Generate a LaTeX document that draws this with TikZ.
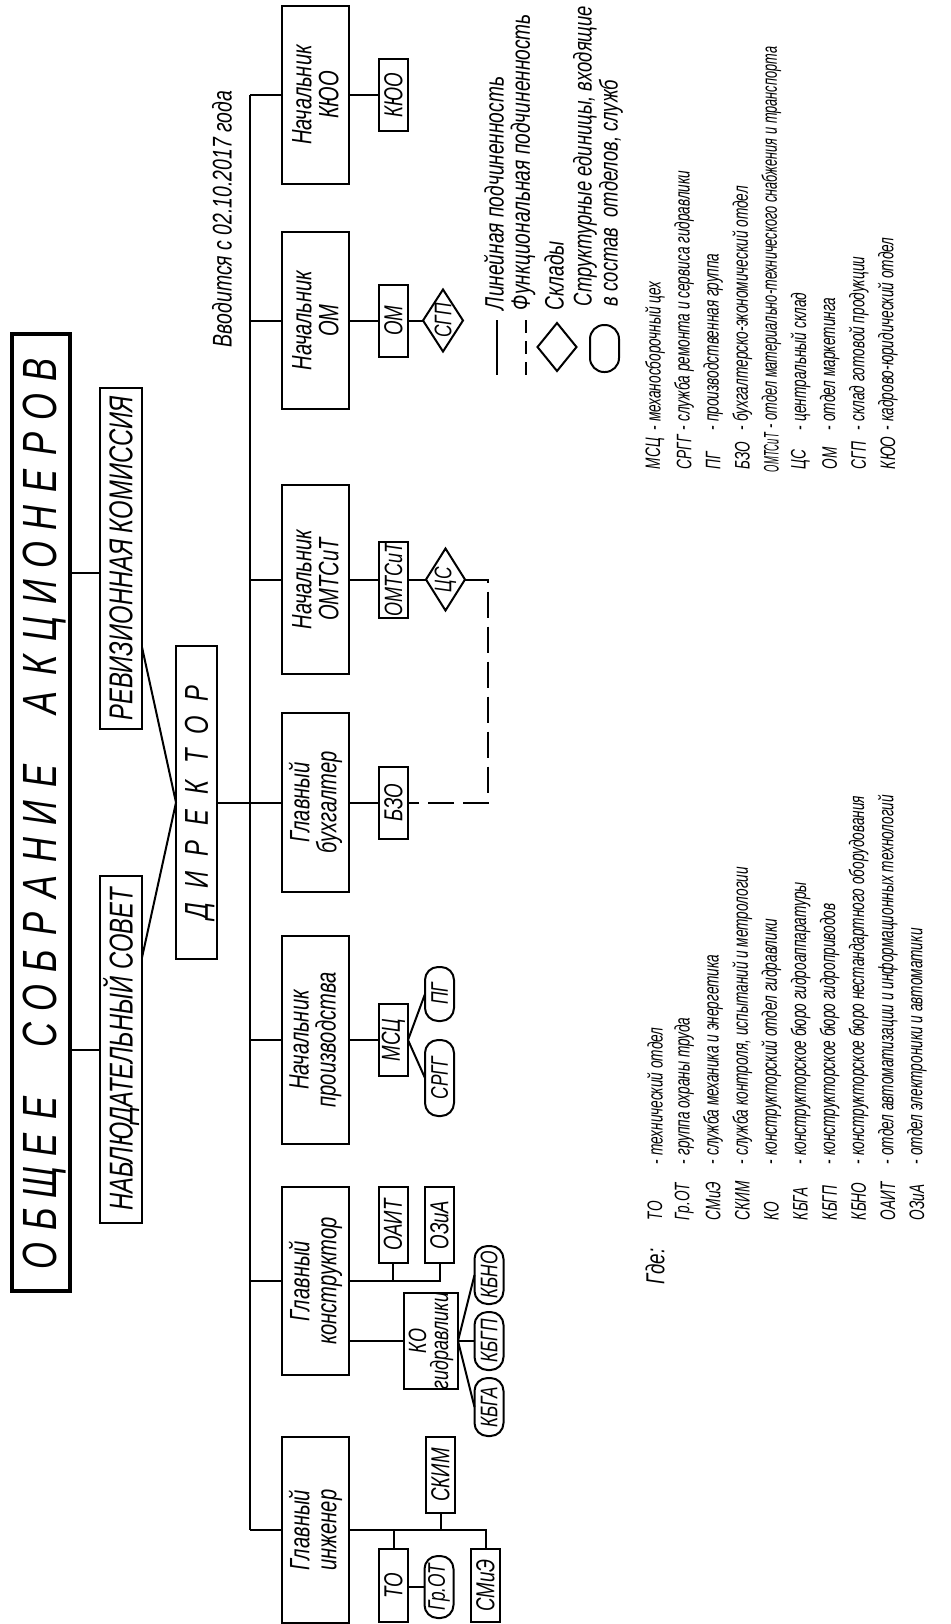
\documentclass[tikz,border=0pt]{standalone}
\usepackage{fontspec}
\setmainfont{Liberation Sans}[FakeStretch=0.72]
\newfontfamily\lstf{Liberation Sans}[FakeStretch=0.65]
\newfontfamily\lstc{Liberation Sans}[FakeStretch=0.61]
\newfontfamily\lstn{Liberation Sans}[FakeStretch=0.45]
\usetikzlibrary{shapes.geometric,calc}
\begin{document}
\begin{tikzpicture}[x=0.5pt,y=-0.5pt,
 every node/.style={inner sep=0pt, outer sep=0pt},
 fs/.style={font=\fontsize{#1}{#1}\selectfont\itshape},
 ln/.style={line width=1pt},
 fn/.style={line width=1pt, dash pattern=on 13pt off 4.5pt},
 hbox/.style={draw, line width=1pt, rotate=90, minimum height=33.5pt, align=center, font=\fontsize{14}{13.5}\selectfont\itshape},
 sbox/.style={draw, line width=1pt, rotate=90, minimum height=14.5pt, fs=13},
 rbox/.style={draw, line width=1pt, rotate=90, minimum height=14.5pt, rounded corners=6.5pt, fs=12},
 dia/.style={draw, line width=1pt, diamond, rotate=90},
 txt/.style={rotate=90, anchor=west, fs=13.3},
 lst/.style={rotate=90, anchor=west, font=\lstf\fontsize{10.5}{10.5}\selectfont\itshape},
 capl/.style={rotate=90, text height=#1, text depth=0pt},
]
\useasboundingbox (0,0) rectangle (950,1624);

% title
\node[draw, line width=2pt, rotate=90, minimum width=478.5pt, minimum height=29pt] (tb) at (41,812.5) {};
\foreach \c/\k in {О/0,Б/1,Щ/2,Е/3,Е/4,С/6,О/7,Б/8,Р/9,А/10,Н/11,И/12,Е/13,А/15,К/16,Ц/17,И/18,О/19,Н/20,Е/21,Р/22,О/23,В/24}
  \node[capl=16.5pt, fs=24] (tl\k) at (40,{1256-36.9*\k}) {\c};

% council boxes
\node[draw, line width=1pt, rotate=90, minimum width=173.5pt, minimum height=21pt, fs=16.5] (nab) at (121,1049.5) {НАБЛЮДАТЕЛЬНЫЙ СОВЕТ};
\node[draw, line width=1pt, rotate=90, minimum width=170.5pt, minimum height=21pt, fs=16.5] (rev) at (121,558.5) {РЕВИЗИОННАЯ КОМИССИЯ};
\coordinate (rvl) at (121,573);
\draw[ln] (tb.south |- rvl) -- (rev.north |- rvl);
\draw[ln] (tb.south |- nab) -- (nab.north);

% director
\node[draw, line width=1pt, rotate=90, minimum width=156.5pt, minimum height=20.5pt] (dir) at (196.5,802.5) {};
\foreach \c/\k in {Д/0,И/1,Р/2,Е/3,К/4,Т/5,О/6,Р/7}
  \node[capl=11.3pt, fs=16.5] (dl\k) at (196.5,{911-31*\k}) {\c};
\draw[ln] ($(rev.south west)!0.24!(rev.south east)$) -- (dir.north) -- ($(nab.south east)!0.235!(nab.south west)$);

% bus
\coordinate (bt) at (250,95);
\coordinate (bb) at (250,1530);
\draw[ln] (bt) -- (bb);
\draw[ln] (dir.south) -- (dir.south -| bt);

% head boxes
\node[hbox, minimum width=89pt]   (kyuo)   at (315.5,95)    {Начальник\\КЮО};
\node[hbox, minimum width=88.5pt] (om)     at (315.5,320.5) {Начальник\\ОМ};
\node[hbox, minimum width=94.5pt] (omts)   at (315.5,579.5) {Начальник\\ОМТСиТ};
\node[hbox, minimum width=89.5pt] (buh)    at (315.5,802.5) {Главный\\бухгалтер};
\node[hbox, minimum width=104pt]  (prod)   at (315.5,1040)  {Начальник\\производства};
\node[hbox, minimum width=94pt]   (konstr) at (315.5,1281)  {Главный\\конструктор};
\node[hbox, minimum width=93pt]   (inzh)   at (315.5,1530)  {Главный\\инженер};
\foreach \n in {kyuo,om,omts,buh,prod,konstr,inzh}
  \draw[ln] (\n.north) -- (\n.north -| bt);

% КЮО, ОМ
\node[sbox, minimum width=36pt] (kyuos) at (393.5,95) {КЮО};
\draw[ln] (kyuo.south) -- (kyuos.north);
\node[sbox, minimum width=36pt] (oms) at (393.5,320.5) {ОМ};
\draw[ln] (om.south) -- (oms.north);
\node[dia, minimum width=31pt, minimum height=20pt, label={[rotate=90, fs=12]center:СГП}] (sgp) at (443,320.5) {};
\draw[ln] (oms.south) -- (sgp.north);

% ОМТСиТ, ЦС
\node[sbox, minimum width=38pt, fs=12.5] (omtss) at (393.5,579.5) {ОМТСиТ};
\draw[ln] (omts.south) -- (omtss.north);
\node[dia, minimum width=31pt, minimum height=19.5pt, label={[rotate=90, fs=12]center:ЦС}] (cs) at (445.5,579.5) {};
\draw[ln] (omtss.south) -- (cs.north);

% БЗО
\node[sbox, minimum width=36pt] (bzo) at (393.5,802.5) {БЗО};
\draw[ln] (buh.south) -- (bzo.north);
\draw[fn] (cs.south) -- ++(23,0) |- (bzo.south);

% МСЦ
\node[sbox, minimum width=36pt] (msc) at (393.5,1040) {МСЦ};
\draw[ln] (prod.south) -- (msc.north);
\node[rbox, minimum width=27pt] (pg) at (439.5,994) {ПГ};
\node[rbox, minimum width=38pt] (srgg) at (439.5,1078) {СРГГ};
\draw[ln] (pg.north) -- (msc.south) -- (srgg.north);

% конструктор
\node[sbox, minimum width=38pt] (oait) at (393,1225) {ОАИТ};
\node[sbox, minimum width=38pt] (ozia) at (439.5,1225) {ОЗиА};
\draw[ln] (konstr.south) -- (konstr.south -| ozia.west) -- (ozia.west);
\draw[ln] (oait.west) -- (oait.west |- konstr.south);
\node[draw, line width=1pt, rotate=90, minimum width=46pt, minimum height=27pt, align=center, font=\fontsize{12.5}{11}\selectfont\itshape] (ko) at (431,1341) {КО\\гидравлики};
\draw[ln] (ko.north) -- (ko.north -| konstr.south);
\node[rbox, minimum width=29pt] (kbno) at (489,1275) {КБНО};
\node[rbox, minimum width=29pt] (kbgp) at (489,1341) {КБГП};
\node[rbox, minimum width=29pt] (kbga) at (489,1407) {КБГА};
\draw[ln] (kbno.north) -- (ko.south) -- (kbga.north);
\draw[ln] (ko.south) -- (kbgp.north);

% инженер
\node[sbox, minimum width=38pt] (skim) at (440.5,1475) {СКИМ};
\node[sbox, minimum width=36.5pt] (to) at (393.5,1585.5) {ТО};
\node[sbox, minimum width=36.5pt] (smie) at (485.5,1585.5) {СМиЭ};
\node[rbox, minimum width=31pt] (grot) at (439,1587) {Гр.ОТ};
\draw[ln] (inzh.south) -- (inzh.south -| smie.east) -- (smie.east);
\draw[ln] (skim.west) -- (skim.west |- inzh.south);
\draw[ln] (to.east) -- (to.east |- inzh.south);
\draw[ln] (grot.north) -- (grot.north -| to.south);

% date
\node[txt, fs=13.5] (vv) at (222,347) {Вводится с 02.10.2017 года};

% legend
\coordinate (l1a) at (497,320); \coordinate (l1b) at (497,375);
\draw[ln] (l1a) -- (l1b);
\coordinate (l2a) at (526,320); \coordinate (l2b) at (526,375);
\draw[line width=1pt, dash pattern=on 6.5pt off 4pt] (l2a) -- (l2b);
\node[dia, minimum width=24pt, minimum height=19.5pt] (ld) at (557,347) {};
\node[draw, line width=1pt, rotate=90, minimum width=23.5pt, minimum height=14.5pt, rounded corners=7pt] (lr) at (604.5,348.5) {};
\node[txt] (lt1) at (494,310) {Линейная подчиненность};
\node[txt] (lt2) at (523,310) {Функциональная подчиненность};
\node[txt] (lt3) at (554,310) {Склады};
\node[txt, align=left, font=\fontsize{12.8}{10}\selectfont\itshape] (lt4) at (598,306) {Структурные единицы, входящие\\в состав\ \ отделов, служб};

% lists
\foreach \i/\a/\d in {0/МСЦ/{механосборочный цех},1/СРГГ/{служба ремонта и сервиса гидравлики},2/ПГ/{производственная группа},3/БЗО/{бухгалтерско-экономический отдел},5/ЦС/{центральный склад},6/ОМ/{отдел маркетинга},7/СГП/{склад готовой продукции},8/КЮО/{кадрово-юридический отдел}}{
  \node[lst] (la\i) at ({655+29.1*\i},469) {\a};
  \node[lst] (ld\i) at ({655+29.1*\i},430) {- \d};
}
\node[lst, font=\lstn\fontsize{10.5}{10.5}\selectfont\itshape] (la4) at ({655+29.1*4},472) {ОМТСиТ};
\node[lst, font=\lstc\fontsize{10.5}{10.5}\selectfont\itshape] (ld4) at ({655+29.1*4},428) {- отдел материально-технического снабжения и транспорта};
\node[lst, font=\fontsize{13}{13}\selectfont\itshape] (gde) at (655,1284) {Где:};
\foreach \i/\a/\d in {0/ТО/{технический отдел},1/Гр.ОТ/{группа охраны труда},2/СМиЭ/{служба механика и энергетика},3/СКИМ/{служба контроля, испытаний и метрологии},4/КО/{конструкторский отдел гидравлики},5/КБГА/{конструкторское бюро гидроаппаратуры},6/КБГП/{конструкторское бюро гидроприводов},7/КБНО/{конструкторское бюро нестандартного оборудования},8/ОАИТ/{отдел автоматизации и информационных технологий},9/ОЗиА/{отдел электроники и автоматики}}{
  \node[lst] (lb\i) at ({655+29.1*\i},1220) {\a};
  \node[lst] (le\i) at ({655+29.1*\i},1164) {- \d};
}
\end{tikzpicture}
\end{document}
